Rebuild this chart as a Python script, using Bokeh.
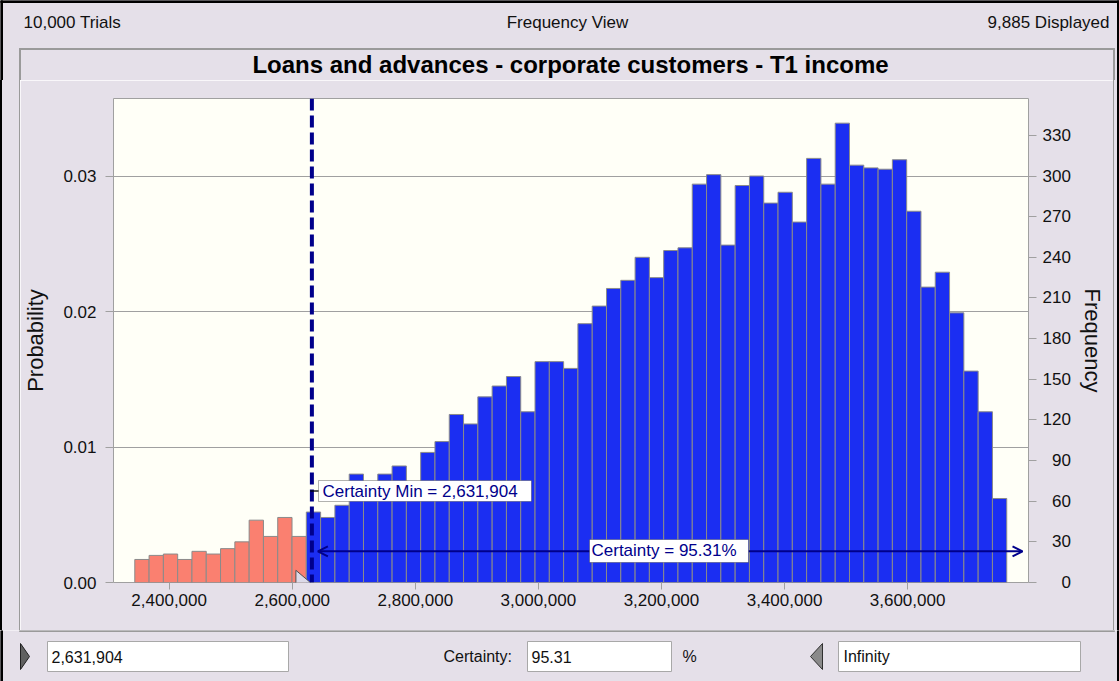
from bokeh.plotting import figure
from bokeh.layouts import column, row
from bokeh.models import (Range1d, LinearAxis, FixedTicker, NumeralTickFormatter, Label, Div,
                          BoxAnnotation, Arrow, OpenHead, Span, ColumnDataSource)
from bokeh.embed import file_html
from bokeh.resources import INLINE

# ---------------- data ----------------
TRIALS_TEXT = "10,000 Trials"
VIEW_TEXT = "Frequency View"
DISPLAYED_TEXT = "9,885 Displayed"
TITLE_TEXT = "Loans and advances - corporate customers - T1 income"

BIN_START = 2344100          # left edge of first bin
BIN_WIDTH = 23230            # bin width
FREQ = [17, 20, 21, 17, 23, 21, 25, 30, 46, 34, 48, 34,
        52, 48, 57, 80, 68, 80, 86, 68,
        96, 104, 124, 117, 137, 145, 152, 126, 163, 163, 158,
        191, 204, 217, 223, 240, 225, 245, 247, 294, 301,
        249, 293, 300, 280, 288, 266, 313, 294, 339, 308, 306, 305, 312, 274,
        218, 229, 199, 156, 126, 62]
TRIALS = 10000

CERT_MIN = 2631904
CERT_MIN_TEXT = "2,631,904"
CERTAINTY_TEXT = "95.31"
UPPER_TEXT = "Infinity"

X_TICKS = [2400000, 2600000, 2800000, 3000000, 3200000, 3400000, 3600000]
PROB_TICKS = [0.0, 0.01, 0.02, 0.03]
FREQ_TICKS = [0, 30, 60, 90, 120, 150, 180, 210, 240, 270, 300, 330]

# ---------------- styling ----------------
LAV = "#E5E0E9"
CREAM = "#FFFFF7"
GRID = "#A0A0A0"
PANEL = "#9A9A9A"
BLUE = "#1B2EF2"
SALMON = "#FA8070"
NAVY = "#00008B"
FONT = "Liberation Sans"
TXT = "#111111"
FSP = "\u2007"  # figure space


def pixel_fig(x0, x1, y0, y1):
    f = figure(width=x1 - x0, height=y1 - y0, x_range=Range1d(x0, x1), y_range=Range1d(y1, y0),
               x_axis_location=None, y_axis_location=None, output_backend="svg",
               toolbar_location=None, min_border=0, min_border_left=0, min_border_right=0,
               min_border_top=0, min_border_bottom=0, background_fill_color=LAV,
               border_fill_color=LAV, outline_line_color=None, margin=0)
    f.grid.visible = False
    return f


def ptext(f, x, y, text, size="17px", align="left", color=TXT, style="normal"):
    f.add_layout(Label(x=x, y=y, text=text, text_font=FONT, text_font_size=size, text_color=color,
                       text_align=align, text_baseline="middle", text_font_style=style))


def prect(f, x0, y0, x1, y1, fill, line=None):
    f.quad(left=[x0], right=[x1], top=[y0], bottom=[y1], fill_color=fill,
           line_color=line if line else fill, line_width=1)


TOP_H = 80
MID_BOT = 630
LX, RX = 20, 1113      # main figure horizontal extent

# ---------------- top strip (header + title) ----------------
top = pixel_fig(0, 1119, 0, TOP_H)
prect(top, 0, 0, 1119, 2, "#000000")
prect(top, 0, 0, 2, TOP_H, "#000000")
prect(top, 1117, 0, 1119, TOP_H, "#000000")
prect(top, 19, 48, 1114, 49, PANEL)
prect(top, 19, 48, 20, TOP_H, PANEL)
prect(top, 1113, 48, 1114, TOP_H, PANEL)
ptext(top, 23, 22, TRIALS_TEXT)
ptext(top, 567, 22, VIEW_TEXT, align="center")
ptext(top, 1109, 22, DISPLAYED_TEXT, align="right")
ptext(top, 570, 64, TITLE_TEXT, size="24px", align="center", color="#000000", style="bold")

# ---------------- side strips ----------------
MID_H = MID_BOT - TOP_H
left_strip = Div(width=LX, height=MID_H, margin=0,
                 styles={"background-color": LAV, "border-left": "2px solid #000000",
                         "border-right": "1px solid " + PANEL, "box-sizing": "border-box"})
right_strip = Div(width=1119 - RX, height=MID_H, margin=0,
                  styles={"background-color": LAV, "border-left": "1px solid " + PANEL,
                          "border-right": "2px solid #000000", "box-sizing": "border-box"})

# ---------------- main chart ----------------
FX0, FX1, FY0, FY1 = 112, 1028, 98, 582   # frame in page px
X_RANGE = (2309500, 3796500)

p = figure(width=RX - LX, height=MID_H, x_range=Range1d(*X_RANGE), y_range=Range1d(0, 0.03572),
           output_backend="svg", toolbar_location=None, margin=0,
           min_border_left=FX0 - LX, min_border_right=RX - FX1,
           min_border_top=FY0 - TOP_H, min_border_bottom=MID_BOT - FY1,
           background_fill_color=CREAM, border_fill_color=LAV, outline_line_color=GRID)

p.extra_y_ranges = {"freq": Range1d(0, 0.03572 * TRIALS)}

lefts = [BIN_START + i * BIN_WIDTH for i in range(len(FREQ))]
rights = [l + BIN_WIDTH for l in lefts]
colors = [BLUE if (l + BIN_WIDTH / 2) > CERT_MIN else SALMON for l in lefts]
src = ColumnDataSource(dict(left=lefts, right=rights, top=FREQ, bottom=[0] * len(FREQ), color=colors))
p.quad(left="left", right="right", top="top", bottom="bottom", fill_color="color", line_color="#8A8A8A",
       line_width=1, source=src, y_range_name="freq")


def style_axis(ax):
    ax.axis_line_color = None
    ax.major_tick_line_color = GRID
    ax.minor_tick_line_color = None
    ax.major_tick_in = 0
    ax.major_label_text_font = FONT
    ax.major_label_text_font_size = "17px"
    ax.major_label_text_color = TXT
    ax.axis_label_text_font = FONT
    ax.axis_label_text_font_size = "22px"
    ax.axis_label_text_font_style = "normal"
    ax.axis_label_text_color = TXT


xa = p.xaxis[0]
xa.ticker = FixedTicker(ticks=X_TICKS)
xa.formatter = NumeralTickFormatter(format="0,0")
style_axis(xa)
xa.major_tick_out = 7
xa.major_label_standoff = 4

ya = p.yaxis[0]
ya.ticker = FixedTicker(ticks=PROB_TICKS)
ya.formatter = NumeralTickFormatter(format="0.00")
ya.axis_label = "Probability"
style_axis(ya)
ya.major_tick_out = 8
ya.major_label_standoff = 9
ya.axis_label_standoff = 12

ra = LinearAxis(y_range_name="freq", ticker=FixedTicker(ticks=FREQ_TICKS), axis_label="Frequency")
ra.major_label_overrides = {t: FSP * (3 - len(str(t))) + str(t) for t in FREQ_TICKS}
style_axis(ra)
ra.major_tick_out = 8
ra.major_label_standoff = 6
ra.axis_label_standoff = 6
p.add_layout(ra, "right")

p.xgrid.visible = False
p.ygrid.ticker = FixedTicker(ticks=PROB_TICKS[1:])
p.ygrid.grid_line_color = GRID

# slider handle on the x axis (certainty min)
px_per_val = (FX1 - FX0) / (X_RANGE[1] - X_RANGE[0])
p.patch(x=[CERT_MIN - 16 / px_per_val, CERT_MIN - 1.5 / px_per_val, CERT_MIN - 16 / px_per_val],
        y=[9, 0, -9], y_range_name="freq", fill_color="#DCDAE8", line_color="#505050", line_width=1)

# certainty min line
p.add_layout(Span(location=CERT_MIN, dimension="height", line_color=NAVY, line_width=4, line_dash="12 5"))

# certainty arrow
p.add_layout(Arrow(start=OpenHead(size=10, line_color=NAVY, line_width=2),
                   end=OpenHead(size=10, line_color=NAVY, line_width=2),
                   x_start=CERT_MIN + 6 / px_per_val, x_end=3786800, y_start=23, y_end=23,
                   y_range_name="freq", line_color=NAVY, line_width=2))


def fsx(X):
    return X - FX0


def fsy(Y):
    return FY1 - Y


def fbox(x0, y0, x1, y1, fill, line=None):
    p.add_layout(BoxAnnotation(left=fsx(x0), right=fsx(x1), top=fsy(y0), bottom=fsy(y1),
                               left_units="screen", right_units="screen", top_units="screen",
                               bottom_units="screen", fill_color=fill, fill_alpha=1,
                               line_color=line if line else fill, line_width=1))


def flabel(X, Y, text):
    p.add_layout(Label(x=fsx(X), y=fsy(Y), x_units="screen", y_units="screen", text=text,
                       text_font=FONT, text_font_size="17px", text_color=NAVY,
                       text_align="left", text_baseline="middle"))


fbox(309, 490, 318, 491, "#000000")
fbox(317, 480, 530, 501, "#FFFFFF", "#000000")
flabel(321, 491, "Certainty Min = " + CERT_MIN_TEXT)

fbox(588, 539, 747, 562, "#FFFFFF", "#000000")
flabel(590, 550, "Certainty = " + CERTAINTY_TEXT + "%")

# ---------------- bottom strip ----------------
bot = pixel_fig(0, 1119, MID_BOT, 681)
prect(bot, 19, MID_BOT, 1114, MID_BOT + 1, PANEL)
prect(bot, 0, MID_BOT, 2, 681, "#000000")
prect(bot, 1117, MID_BOT, 1119, 681, "#000000")
bot.patch(x=[20, 29, 20], y=[643, 656, 669], fill_color="#606060", line_color="#202020")
prect(bot, 47, 641, 288, 671, "#FFFFFF", "#A8A8A8")
ptext(bot, 51, 656, CERT_MIN_TEXT, size="16px")
ptext(bot, 443, 656, "Certainty:", size="16px")
prect(bot, 527, 641, 671, 671, "#FFFFFF", "#A8A8A8")
ptext(bot, 531, 656, CERTAINTY_TEXT, size="16px")
ptext(bot, 682, 656, "%", size="16px")
bot.patch(x=[822, 810, 822], y=[643, 656, 669], fill_color="#8A8A8A", line_color="#303030")
prect(bot, 838, 641, 1080, 671, "#FFFFFF", "#A8A8A8")
ptext(bot, 843, 656, UPPER_TEXT, size="16px")

layout = column(top, row(left_strip, p, right_strip, spacing=0, margin=0), bot, spacing=0, margin=0)
open("out.html", "w").write(file_html(layout, INLINE))
